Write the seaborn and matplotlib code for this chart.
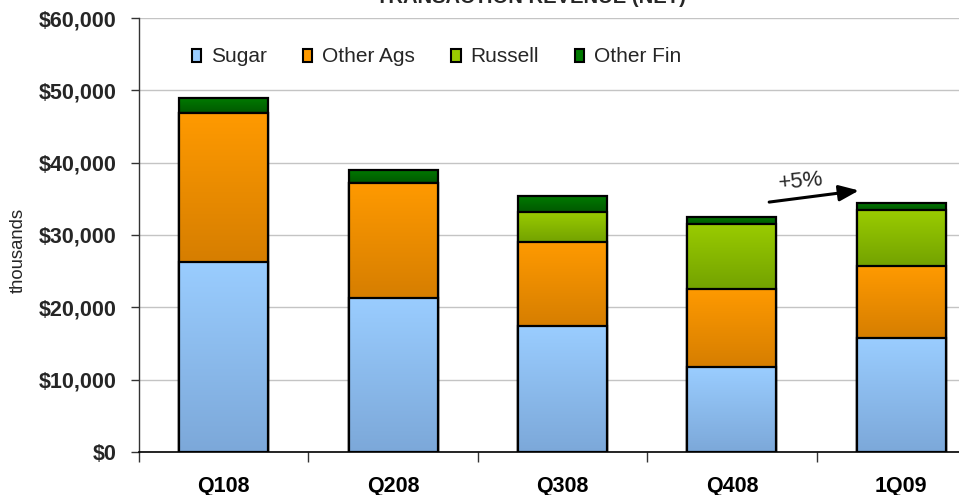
import numpy as np
import pandas as pd
import matplotlib
matplotlib.use("Agg")
import matplotlib.pyplot as plt
from matplotlib.colors import LinearSegmentedColormap
from matplotlib.patches import Patch
import seaborn as sns

# ---------------- data ----------------
quarters = ["Q108", "Q208", "Q308", "Q408", "1Q09"]
sugar = [26300, 21300, 17400, 11750, 15750]
other_ags = [20600, 15900, 11600, 10800, 9950]
russell = [0, 0, 4150, 9000, 7700]
other_fin = [2050, 1800, 2200, 1000, 1050]
series_names = ["Sugar", "Other Ags", "Russell", "Other Fin"]
ytick_values = [0, 10000, 20000, 30000, 40000, 50000, 60000]
ytick_labels = ["$0", "$10,000", "$20,000", "$30,000", "$40,000", "$50,000", "$60,000"]
title = "TRANSACTION REVENUE (NET)"
ylabel = "thousands"
growth_label = "+5%"

# ---------------- style ----------------
sns.set_theme(style="white")
plt.rcParams["font.family"] = ["Liberation Sans", "DejaVu Sans"]

grad_colors = {  # (top, bottom)
    "Sugar": ("#9ACDFF", "#7CA8D9"),
    "Other Ags": ("#FF9A00", "#D67E00"),
    "Russell": ("#9ACC00", "#73A200"),
    "Other Fin": ("#007A00", "#005800"),
}

df = pd.DataFrame({"quarter": quarters, "Sugar": sugar, "Other Ags": other_ags,
                   "Russell": russell, "Other Fin": other_fin})
cum = df[series_names].cumsum(axis=1)
lows = cum.shift(1, axis=1).fillna(0)

fig = plt.figure(figsize=(9.59, 4.95), dpi=100)
ax = fig.add_axes([139 / 959, 43 / 495, 847 / 959, 434 / 495])

ax.yaxis.grid(True, color="#C4C4C4", linewidth=1.0, zorder=0)
ax.set_axisbelow(True)

bar_w = 0.525
draw_order = list(reversed(series_names))  # tallest cumulative first
for d, name in enumerate(draw_order):
    plot_df = pd.DataFrame({"quarter": quarters, "val": cum[name].values})
    n_before = len(ax.patches)
    sns.barplot(data=plot_df, x="quarter", y="val", order=quarters, color=grad_colors[name][0],
                width=bar_w, edgecolor="black", linewidth=1.6, errorbar=None,
                ax=ax, zorder=2 + d, saturation=1)
    new_patches = ax.patches[n_before:]
    top_c, bot_c = grad_colors[name]
    cmap = LinearSegmentedColormap.from_list(name, [bot_c, top_c])
    grad = np.linspace(1, 0, 256)[:, None]
    for i, p in enumerate(new_patches):
        lo = lows[name].iloc[i]
        hi = cum[name].iloc[i]
        p.set_facecolor("none")
        p.set_zorder(2 + d + 0.5)
        if hi - lo <= 0:
            continue
        x0 = p.get_x()
        im = ax.imshow(grad, cmap=cmap, vmin=0, vmax=1, aspect="auto", origin="upper",
                       extent=[x0, x0 + p.get_width(), lo, hi], zorder=2 + d,
                       interpolation="bilinear")
        im.set_clip_path(p)

ax.set_xlim(-0.5, len(quarters) - 0.5)
ax.set_ylim(0, 60000)
ax.set_yticks(ytick_values)
ax.set_yticklabels(ytick_labels, fontsize=15.5, fontweight="bold")
ax.set_xticks(range(len(quarters)))
ax.set_xticklabels(quarters, fontsize=15.5, fontweight="bold")
ax.set_xticks(np.arange(-0.5, len(quarters), 1.0), minor=True)
ax.tick_params(axis="x", which="major", length=0, pad=17, colors="black")
ax.tick_params(axis="x", which="minor", length=7, width=1, direction="out", color="#333333", bottom=True)
ax.tick_params(axis="y", which="major", length=6, width=1, direction="out", color="#333333", pad=10, left=True)
ax.set_xlabel("")
ax.set_ylabel(ylabel, fontsize=13.3)
ax.yaxis.set_label_coords(-0.132, 0.465)

for s in ["top", "right"]:
    ax.spines[s].set_visible(False)
ax.spines["left"].set_color("#333333")
ax.spines["left"].set_linewidth(1.0)
ax.spines["bottom"].set_color("black")
ax.spines["bottom"].set_linewidth(1.2)
ax.spines["left"].set_zorder(10)
ax.spines["bottom"].set_zorder(10)

# legend
handles = [Patch(facecolor=grad_colors[n][0], edgecolor="black", linewidth=1.5, label=n)
           for n in series_names]
fig.legend(handles=handles, loc="center left", bbox_to_anchor=(192 / 959, 1 - 57 / 495),
           ncol=4, frameon=False, fontsize=15, handlelength=0.45, handleheight=0.6,
           handletextpad=0.45, columnspacing=1.75, borderpad=0, borderaxespad=0)

# title (partially clipped at the top in the reference)
fig.text(531 / 959, 1 - 3 / 495, title, ha="center", va="baseline", fontsize=14.5,
         fontweight="bold")

# growth annotation
ax.annotate("", xy=(3.75, 36150), xytext=(3.22, 34550),
            arrowprops=dict(arrowstyle="-|>,head_length=1.0,head_width=0.4", color="black",
                            lw=2.2, shrinkA=0, shrinkB=0), zorder=20)
ax.text(3.41, 37350, growth_label, ha="center", va="center", fontsize=16, rotation=5, zorder=20)

fig.savefig("out.png", dpi=100)
